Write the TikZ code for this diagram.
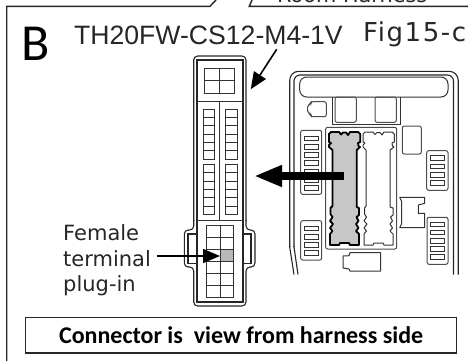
\documentclass[tikz,border=0pt]{standalone}
\usepackage{fontspec}
\usepackage{xcolor}
\usetikzlibrary{arrows.meta}
\setmainfont{DejaVu Sans}
\newfontfamily\headfont{Liberation Sans}
\newfontfamily\boldfont{Carlito}
\newfontfamily\widefont[LetterSpace=6]{DejaVu Sans}
\definecolor{partgray}{gray}{0.78}
\definecolor{cellgray}{gray}{0.72}

\begin{document}
\begin{tikzpicture}[x=1pt,y=-1pt,>=Triangle,
    label text/.style={anchor=base west,inner sep=0pt,text=black!85},
    frame line/.style={line width=1.4pt,black!85},
    conn line/.style={line width=1.1pt,black!85},
    part line/.style={line width=1pt,black!80},
    comb/.style={line width=1pt,black!70,rounded corners=2pt},
    big arrow/.style={line width=8.5pt,-{Triangle[length=28pt,width=20pt]}},
    small arrow/.style={line width=1.6pt,-{Triangle[length=17pt,width=14pt]}}]

    \useasboundingbox (0,0) rectangle (468,360);

    \draw[frame line] (216,0) -- (210,6.3) -- (6.7,6.3) -- (6.7,361);
    \draw[frame line] (252,0) -- (249.3,6.3) -- (468,6.3);

    \node[label text] (room) at (277,2.7) {\fontsize{20.8}{24}\selectfont Room Harness};
    \node[label text,text=black] (letter) at (21,60) {\boldfont\fontsize{52}{60}\selectfont B};
    \node[label text] (code) at (74,44.5) {\headfont\fontsize{26.6}{30}\selectfont TH20FW-CS12-M4-1V};
    \node[label text] (figure) at (363,41) {\widefont\fontsize{26}{30}\selectfont Fig15-c};
    \node[label text] (female) at (63,240) {\fontsize{21}{24}\selectfont Female};
    \node[label text] (terminal) at (63,266.5) {\fontsize{21}{24}\selectfont terminal};
    \node[label text] (plugin) at (63,291.5) {\fontsize{21}{24}\selectfont plug-in};

    % connector
    \draw[conn line,rounded corners=4pt] (193.7,221) -- (193.7,56) -- (246,56) -- (246,221);
    \draw[conn line] (197,220.5) -- (197,60) -- (243,60) -- (243,220.5);
    \draw[conn line,rounded corners=4pt] (193.7,220) -- (193.7,230) -- (184.3,230) -- (184.3,267) -- (193.7,267) -- (193.7,306) -- (246,306) -- (246,267) -- (255,267) -- (255,230) -- (246,230) -- (246,220);
    \draw[conn line] (197,220.5) -- (197,302) -- (243,302) -- (243,220.5);
    \draw[conn line] (197,234) -- (188,234) -- (188,263.5) -- (197,263.5);
    \draw[conn line] (243,234) -- (251,234) -- (251,263.5) -- (243,263.5);
    \draw[part line] (197,101.7) -- (243,101.7);
    \draw[part line] (197,220.5) -- (243,220.5);
    \draw[part line] (219.7,101.7) -- (219.7,220.5);
    \draw[part line] (204.7,68) rectangle (234.7,93);
    \draw[part line] (219.7,68) -- (219.7,93);
    \draw[part line] (204.7,80.5) -- (234.7,80.5);
    \foreach \colx in {203.3,225.7} {
        \foreach \rowy in {109.3,164.5} {
            \draw[part line] (\colx,\rowy) rectangle (\colx+11.5,\rowy+49.8);
            \foreach \k in {1,...,5}
                \draw[part line] (\colx,\rowy+8.3*\k) -- (\colx+11.5,\rowy+8.3*\k);
        }
    }
    \fill[cellgray] (219.7,249.6) rectangle (233.3,261.6);
    \draw[part line] (206.7,225.7) rectangle (233.3,297.3);
    \draw[part line] (220,225.7) -- (220,297.3);
    \foreach \k in {1,...,5}
        \draw[part line] (206.7,225.7+11.93*\k) -- (233.3,225.7+11.93*\k);

    % fuse block
    \draw[conn line,rounded corners=9pt] (289.7,247) -- (289.7,71.3) -- (458.2,71.3) -- (458.2,274.5);
    \draw[conn line] (289.7,246) -- (289.7,247) -- (294,274.5);
    \draw[conn line,rounded corners=6pt] (294,247) -- (294,75) -- (453.5,75) -- (453.5,274.5);
    \draw[conn line] (294,246) -- (294,247) -- (298,274.5);
    \draw[part line,rounded corners=7pt] (299.7,77) rectangle (448,97);
    \draw[part line] (332,97) -- (332,124) -- (400,124) -- (400,97);
    \draw[comb] (335,97) rectangle (356.3,122.3);
    \draw[comb] (375,97) rectangle (396.3,122.3);
    \draw[comb] (311,101.7) -- (326.3,101.7) -- (326.3,116.7) -- (311,116.7) -- (311,114) -- (307.5,113) -- (307.5,105) -- (311,104) -- cycle;
    \draw[comb] (325.7,127.3) rectangle (396.7,249);
    \draw[comb] (402.3,126) rectangle (421.3,154);
    \draw[part line,line join=round] (399.7,197.3) -- (424.7,197.3) -- (424.7,203.3) -- (418.3,205) -- (418.3,213.3) -- (424.7,213.3) -- (424.7,227.7) -- (399.7,227.7) -- (401.5,224) -- (401.5,201) -- cycle;
    \draw[part line,line join=round] (350,252.7) -- (380.7,252.7) -- (380.7,271) -- (350,271) -- (349,269) -- (343,268) -- (343,256) -- (349,255.7) -- cycle;

    \draw[comb] (300.7,130.3) rectangle (321.7,194.3);
    \foreach \k in {0,...,6}
        \draw[part line] (304.7,136+8.3*\k) rectangle (318.3,140.7+8.3*\k);
    \draw[comb] (300.7,220.7) rectangle (321.7,260);
    \foreach \k in {0,...,3}
        \draw[part line] (304.7,226+8.3*\k) rectangle (318.3,230.7+8.3*\k);
    \draw[comb] (426.7,150.7) rectangle (448,190.3);
    \foreach \k in {0,...,3}
        \draw[part line] (430,155.7+8.3*\k) rectangle (444.7,160.4+8.3*\k);
    \draw[comb] (427,217.3) rectangle (448,264.3);
    \foreach \k in {0,...,4}
        \draw[part line] (430,222+8.2*\k) rectangle (444.7,226.7+8.2*\k);

    % fuse parts
    \draw[black,line width=1.8pt,fill=partgray,line join=round] (331,132) -- (339,132) -- (341,134.5) -- (343,132.5) -- (346,132.5) -- (348,135) -- (350,132) -- (358,132) -- (360.3,134) -- (360.3,142) -- (358,143) -- (358.5,146) -- (360,147) -- (356.7,150) -- (356.7,207) -- (359,208) -- (359,215) -- (356.5,217) -- (358.5,221) -- (356,224) -- (358.5,228) -- (356,231) -- (359,234) -- (359,245) -- (350,245) -- (349,243) -- (340,243) -- (339,245) -- (330,245) -- (330,234) -- (332.5,231) -- (330,228) -- (333,224) -- (330,221) -- (332.5,217) -- (330.5,214) -- (330.5,208) -- (332.5,206) -- (332.5,150) -- (329,147) -- (329,145) -- (331,143) -- (329,142) -- (329,134) -- cycle;
    \draw[part line,fill=white,line join=round] (365,132) -- (373,132) -- (375,134.5) -- (377,132.5) -- (380,132.5) -- (382,135) -- (384,132) -- (392,132) -- (394.3,134) -- (394.3,142) -- (392,143) -- (392.5,146) -- (394,147) -- (390,150) -- (390,207) -- (393,208) -- (393,215) -- (390.5,217) -- (392.5,221) -- (390,224) -- (392.5,228) -- (390,231) -- (393,234) -- (393,245) -- (384,245) -- (383,243) -- (374,243) -- (373,245) -- (364,245) -- (364,234) -- (366.5,231) -- (364,228) -- (367,224) -- (364,221) -- (366.5,217) -- (364.5,214) -- (364.5,208) -- (366,206) -- (366,150) -- (363,147) -- (363,145) -- (365,143) -- (363,142) -- (363,134) -- cycle;

    % arrows
    \coordinate (big tail) at (343.5,176);
    \coordinate (big tip) at (254,176);
    \coordinate (code tail) at (276.7,49.3);
    \coordinate (code tip) at (250.7,89.3);
    \coordinate (cell tip) at (220,256);
    \coordinate (label end) at (156.5,256);
    \draw[big arrow] (big tail) -- (big tip);
    \draw[small arrow] (code tail) -- (code tip);
    \draw[small arrow] (label end) -- (cell tip);

    % note
    \node[draw=black!85,line width=1.3pt,minimum width=431pt,minimum height=35.5pt,inner sep=0pt,anchor=north west] (note) at (25,316.7) {\boldfont\bfseries\fontsize{24}{30}\selectfont Connector is\ \ view from harness side};
\end{tikzpicture}
\end{document}
